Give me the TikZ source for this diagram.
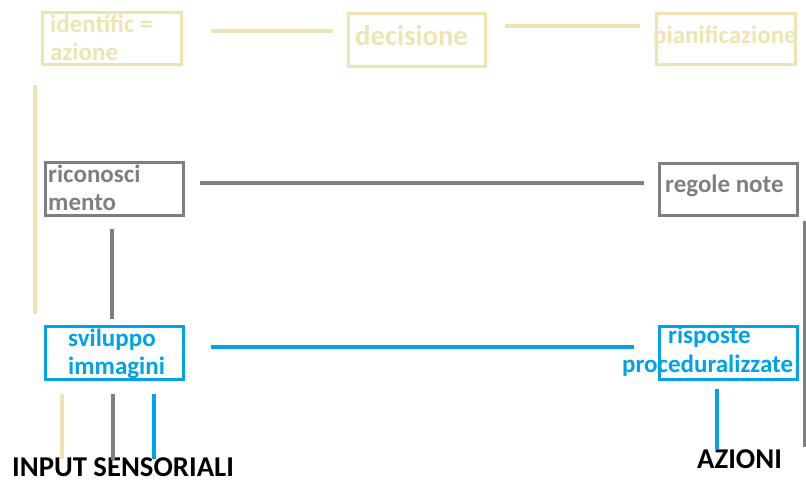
\documentclass[tikz,border=0pt]{standalone}
\usepackage{fontspec}
\setmainfont{Carlito}
\definecolor{giallo}{HTML}{EFE4B0}
\definecolor{grigio}{HTML}{7F7F7F}
\definecolor{azzurro}{HTML}{00A2E8}
\tikzset{
  riquadro/.style={draw, line width=3pt, minimum width=138pt, minimum height=52pt, inner sep=0pt},
  testo/.style={font=\fontsize{25}{29}\selectfont\bfseries, inner sep=0pt, anchor=base west},
  titolo/.style={font=\fontsize{28.7}{32}\selectfont\bfseries, inner sep=0pt, anchor=base west},
  linea/.style={line width=4pt},
}
\begin{document}
\begin{tikzpicture}[x=1pt, y=-1pt]
    \useasboundingbox (0,0) rectangle (806,480);
    %testi (sotto i bordi)
    \node[testo, giallo] (t-ident1) at (50,32) {identific =};
    \node[testo, giallo] (t-ident2) at (50,60) {azione};
    \node[titolo, giallo] (t-dec) at (355,45) {decisione};
    \node[testo, giallo] (t-pian) at (653,43) {pianificazione};
    \node[testo, grigio] (t-ricon1) at (48,182) {riconosci};
    \node[testo, grigio] (t-ricon2) at (48,210) {mento};
    \node[testo, grigio] (t-regole) at (665,192.5) {regole note};
    \node[testo, azzurro] (t-svil1) at (68,346) {sviluppo};
    \node[testo, azzurro] (t-svil2) at (68,374) {immagini};
    \node[testo, azzurro] (t-risp1) at (668,343) {risposte};
    \node[testo, azzurro] (t-risp2) at (622,372) {proceduralizzate};
    \node[titolo] (input) at (12,476) {INPUT SENSORIALI};
    \node[titolo] (azioni) at (697,468) {AZIONI};
    %riquadri
    \node[riquadro, giallo, minimum width=139pt] (ident) at (112,38.3) {};
    \node[riquadro, giallo, minimum width=137pt, minimum height=53pt] (dec) at (417,40) {};
    \node[riquadro, giallo, minimum width=139pt, minimum height=51pt] (pian) at (726,39) {};
    \node[riquadro, grigio, minimum height=53pt] (ricon) at (114.5,189) {};
    \node[riquadro, grigio] (regole) at (728.5,189) {};
    \node[riquadro, azzurro, minimum height=53pt] (svil) at (114.5,353) {};
    \node[riquadro, azzurro, minimum height=53pt] (risp) at (728.5,353) {};
    %collegamenti gialli
    \draw[linea, giallo] ([xshift=27.5pt,yshift=7.3pt]ident.east) -- ([xshift=-14.5pt,yshift=9pt]dec.west);
    \draw[linea, giallo] ([xshift=17.5pt,yshift=14pt]dec.east) -- ([xshift=-15.5pt,yshift=13pt]pian.west);
    \draw[linea, giallo] ([xshift=-6.5pt,yshift=-18.7pt]ident.south west) -- ([xshift=-9.5pt,yshift=11.5pt]svil.north west);
    %collegamenti grigi
    \draw[linea, grigio] ([xshift=14.5pt,yshift=6.3pt]ricon.east) -- ([xshift=-13.8pt,yshift=6.3pt]regole.west);
    \draw[linea, grigio] ([xshift=-2.5pt,yshift=-11.5pt]ricon.south) -- ([xshift=-2.5pt,yshift=6.5pt]svil.north);
    \draw[linea, grigio, line width=3.5pt] ([xshift=6pt,yshift=-4.5pt]regole.south east) -- ([xshift=6pt,yshift=-65.5pt]risp.south east);
    %collegamenti azzurri
    \draw[linea, azzurro] ([xshift=25.5pt,yshift=6pt]svil.east) -- ([xshift=-24.5pt,yshift=6pt]risp.west);
    \draw[linea, azzurro] ([xshift=-11.8pt,yshift=-7.5pt]risp.south) -- ([xshift=-11.8pt]risp.south |- azioni.north);
    %ingressi
    \draw[linea, giallo] ([xshift=-53pt,yshift=-12.5pt]svil.south) -- ([xshift=-53pt,yshift=-2pt]svil.south |- input.north);
    \draw[linea, grigio] ([xshift=-1.5pt,yshift=-12.5pt]svil.south) -- ([xshift=-1.5pt,yshift=-3pt]svil.south |- input.north);
    \draw[linea, azzurro] ([xshift=39.5pt,yshift=-12.5pt]svil.south) -- ([xshift=39.5pt,yshift=-2pt]svil.south |- input.north);
\end{tikzpicture}
\end{document}
